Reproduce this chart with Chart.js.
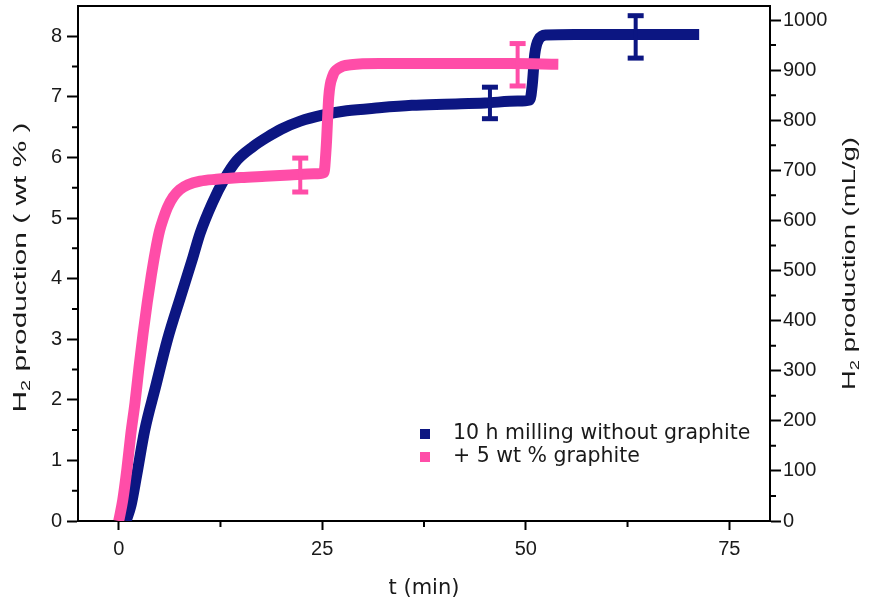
<!DOCTYPE html>
<html>
<head>
<meta charset="utf-8">
<script src="https://cdn.jsdelivr.net/npm/chart.js@4.4.0/dist/chart.umd.min.js"></script>
<style>
  html, body { margin: 0; padding: 0; background: #fff; }
</style>
</head>
<body>
<canvas id="myChart" width="870" height="606"></canvas>
<script>
  // Series
  const seriesNames = ['10 h milling without graphite', '+ 5 wt % graphite']

  const millTime = [0.9, 1.5, 2.2, 3.2, 4.5, 6, 7.6, 9, 10, 11.5, 13, 14.5, 16.5, 18.3, 20, 22.3, 25, 28, 32, 36, 40, 45, 49, 50.5, 50.8, 51.1, 51.6, 52.5, 56, 60, 66, 71.3]
  const millH2 = [0, 0.25, 0.75, 1.5, 2.2, 3.0, 3.7, 4.3, 4.75, 5.25, 5.65, 5.95, 6.18, 6.34, 6.47, 6.6, 6.7, 6.77, 6.82, 6.86, 6.88, 6.9, 6.93, 6.95, 7.2, 7.7, 7.95, 8.02, 8.03, 8.03, 8.03, 8.03]

  const graphTime = [0, 0.5, 1, 1.5, 2, 2.5, 3, 3.5, 4, 4.5, 5, 5.5, 6, 6.7, 7.5, 8.5, 10, 12, 15, 18, 21, 24, 25.2, 25.5, 25.8, 26.3, 27, 28.5, 32, 40, 48, 54]
  const graphH2 = [0, 0.35, 0.85, 1.45, 1.95, 2.55, 3.1, 3.6, 4.05, 4.45, 4.78, 5.0, 5.18, 5.35, 5.47, 5.55, 5.61, 5.64, 5.67, 5.69, 5.71, 5.73, 5.75, 6.2, 7.0, 7.35, 7.47, 7.53, 7.55, 7.55, 7.55, 7.54]

  // Error bars
  const millErrTime = [45.6, 63.5]
  const millErrMid = [6.9, 7.99]
  const millErrHalf = [0.26, 0.35]
  const graphErrTime = [22.3, 49]
  const graphErrMid = [5.71, 7.53]
  const graphErrHalf = [0.28, 0.35]

  // Ticks
  const xTicks = [0, 25, 50, 75]
  const xMinorTicks = [12.5, 37.5, 62.5]
  const yTicks = [0, 1, 2, 3, 4, 5, 6, 7, 8]
  const yMinorTicks = [0.5, 1.5, 2.5, 3.5, 4.5, 5.5, 6.5, 7.5]
  const y2Ticks = [0, 100, 200, 300, 400, 500, 600, 700, 800, 900, 1000]
  const y2MinorTicks = [50, 150, 250, 350, 450, 550, 650, 750, 850, 950]

  const navy = '#0c1682'
  const pink = '#ff4da8'
  const tickFamily = 'Liberation Sans'
  const textFamily = 'DejaVu Sans'
  const textColor = '#1a1a1a'

  const toPoints = (xs, ys) => xs.map((x, i) => ({ x: x, y: ys[i] }))

  const errorSets = (times, mids, halves, color) => times.map((t, i) => ({
    data: [{ x: t, y: mids[i] - halves[i] }, { x: t, y: mids[i] + halves[i] }],
    borderColor: color,
    backgroundColor: color,
    borderWidth: 4,
    pointStyle: 'line',
    pointRadius: 8,
    pointBorderWidth: 5,
    pointBorderColor: color,
    showLine: true
  }))

  // fixed axis sizes, and no extra room for half labels at the ends
  const fixSize = (w, h) => s => {
    if (w !== null) s.width = w
    if (h !== null) s.height = h
    s.paddingTop = 0
    s.paddingBottom = 0
    s.paddingLeft = 0
    s.paddingRight = 0
  }

  const minorTicks = {
    id: 'minorTicks',
    afterDraw(chart) {
      const { ctx, chartArea: a, scales } = chart
      ctx.save()
      ctx.strokeStyle = '#000'
      ctx.lineWidth = 2
      ctx.beginPath()
      xMinorTicks.forEach(v => {
        const px = scales.x.getPixelForValue(v)
        ctx.moveTo(px, a.bottom)
        ctx.lineTo(px, a.bottom + 6)
      })
      yMinorTicks.forEach(v => {
        const py = scales.y.getPixelForValue(v)
        ctx.moveTo(a.left, py)
        ctx.lineTo(a.left - 6, py)
      })
      y2MinorTicks.forEach(v => {
        const py = scales.y2.getPixelForValue(v)
        ctx.moveTo(a.right, py)
        ctx.lineTo(a.right + 6, py)
      })
      ctx.stroke()
      ctx.restore()
    }
  }

  // vertical titles read bottom to top, with a real subscript,
  // stretched along the text to the length seen in the original
  function sideTitle(ctx, cx, cy, rest, length) {
    const big = '18px "' + tickFamily + '"'
    const small = '12px "' + tickFamily + '"'
    ctx.save()
    ctx.font = big
    const wH = ctx.measureText('H').width
    const wRest = ctx.measureText(rest).width
    ctx.font = small
    const w2 = ctx.measureText('2').width
    const total = wH + w2 + wRest
    ctx.translate(cx, cy)
    ctx.rotate(-Math.PI / 2)
    ctx.scale(length / total, 1)
    ctx.fillStyle = textColor
    ctx.textBaseline = 'middle'
    ctx.textAlign = 'left'
    let x = -total / 2
    ctx.font = big
    ctx.fillText('H', x, 0)
    x += wH
    ctx.font = small
    ctx.fillText('2', x, 6)
    x += w2
    ctx.font = big
    ctx.fillText(rest, x, 0)
    ctx.restore()
  }

  const extras = {
    id: 'extras',
    afterDraw(chart) {
      const { ctx, chartArea: a } = chart
      const midY = (a.top + a.bottom) / 2
      sideTitle(ctx, 21, midY + 4, ' production ( wt % )', 290)
      sideTitle(ctx, 850, midY, ' production (mL/g)', 253)

      // legend inside the plot
      const colors = [navy, pink]
      ctx.save()
      ctx.font = '20.5px "' + textFamily + '"'
      ctx.textBaseline = 'middle'
      seriesNames.forEach((name, i) => {
        const y = a.bottom - 87 + i * 23
        ctx.fillStyle = colors[i]
        ctx.fillRect(a.left + 342, y - 5, 10, 10)
        ctx.fillStyle = textColor
        ctx.fillText(name, a.left + 375, y)
      })
      ctx.restore()
    }
  }

  const tickFont = { family: tickFamily, size: 20 }

  const ctx = document.getElementById('myChart')
  // eslint-disable-next-line no-unused-vars
  const myChart = new Chart(ctx, {
    type: 'line',
    data: {
      datasets: [
        ...errorSets(millErrTime, millErrMid, millErrHalf, navy),
        ...errorSets(graphErrTime, graphErrMid, graphErrHalf, pink),
        {
          label: seriesNames[1],
          data: toPoints(graphTime, graphH2),
          borderColor: pink,
          borderWidth: 11,
          pointRadius: 0,
          cubicInterpolationMode: 'monotone',
          borderJoinStyle: 'round'
        },
        {
          label: seriesNames[0],
          data: toPoints(millTime, millH2),
          borderColor: navy,
          borderWidth: 11,
          pointRadius: 0,
          cubicInterpolationMode: 'monotone',
          borderJoinStyle: 'round'
        }
      ]
    },
    options: {
      responsive: false,
      animation: false,
      layout: { padding: 0, autoPadding: false },
      plugins: {
        legend: { display: false },
        tooltip: { enabled: false }
      },
      scales: {
        x: {
          type: 'linear',
          position: 'bottom',
          min: -5,
          max: 80,
          afterBuildTicks: s => { s.ticks = xTicks.map(v => ({ value: v })) },
          afterFit: fixSize(null, 85),
          grid: { drawOnChartArea: false, tickLength: 9, tickWidth: 2, tickColor: '#000' },
          border: { color: '#000', width: 2 },
          ticks: { font: tickFont, color: textColor, padding: 7, maxRotation: 0, callback: v => String(v) },
          title: {
            display: true,
            text: 't (min)',
            font: { family: textFamily, size: 21 },
            color: textColor,
            padding: { top: 0, bottom: 5 }
          }
        },
        x2: {
          type: 'linear',
          position: 'top',
          min: -5,
          max: 80,
          afterFit: fixSize(null, 6),
          grid: { display: false, drawTicks: false },
          border: { display: true, color: '#000', width: 2 },
          ticks: { display: false }
        },
        y: {
          position: 'left',
          min: 0,
          max: 8.5,
          afterBuildTicks: s => { s.ticks = yTicks.map(v => ({ value: v })) },
          afterFit: fixSize(78, null),
          grid: { drawOnChartArea: false, tickLength: 11, tickWidth: 2, tickColor: '#000' },
          border: { color: '#000', width: 2 },
          ticks: { font: tickFont, color: textColor, padding: 5, callback: v => String(v) }
        },
        y2: {
          position: 'right',
          min: 0,
          max: 1028,
          afterBuildTicks: s => { s.ticks = y2Ticks.map(v => ({ value: v })) },
          afterFit: fixSize(100, null),
          grid: { drawOnChartArea: false, tickLength: 11, tickWidth: 2, tickColor: '#000' },
          border: { color: '#000', width: 2 },
          ticks: { font: tickFont, color: textColor, padding: 2, callback: v => String(v) }
        }
      }
    },
    plugins: [minorTicks, extras]
  })
</script>
</body>
</html>
